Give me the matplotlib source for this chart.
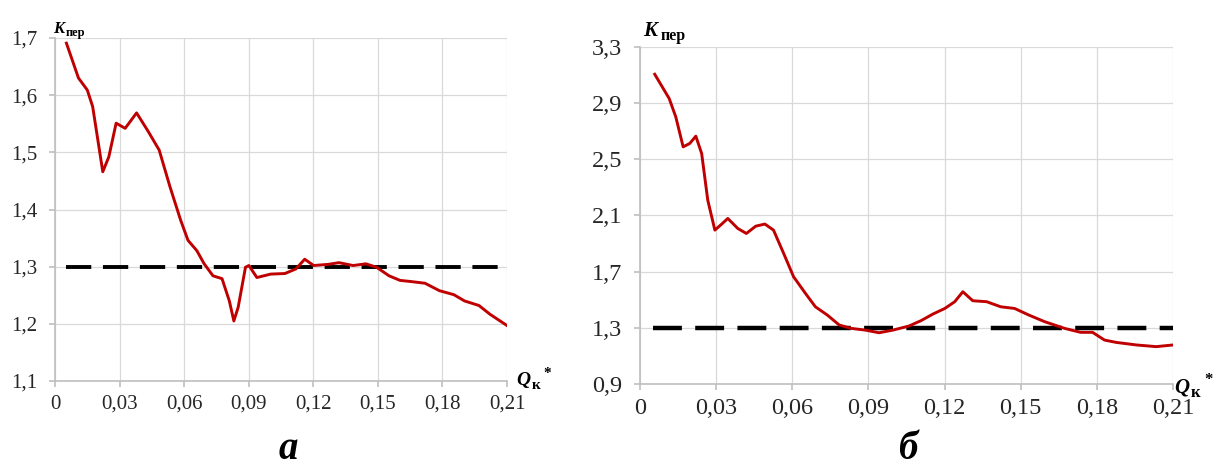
import numpy as np
import matplotlib.pyplot as plt
from matplotlib.ticker import FuncFormatter

# --- data ---
# panel "а"
qa = [0.0053, 0.0109, 0.015, 0.0175, 0.0222, 0.025, 0.0284, 0.0326, 0.0379, 0.0434,
      0.0484, 0.0534, 0.0584, 0.0618, 0.0659, 0.0693, 0.0734, 0.0776, 0.081, 0.0831,
      0.0851, 0.0885, 0.0901, 0.0938, 0.1002, 0.1068, 0.1119, 0.116, 0.1202, 0.1269,
      0.1319, 0.1385, 0.1444, 0.1494, 0.1552, 0.1603, 0.1653, 0.1719, 0.1786, 0.1853,
      0.1903, 0.197, 0.202, 0.21]
ka = [1.691, 1.630, 1.609, 1.580, 1.466, 1.492, 1.551, 1.542, 1.569, 1.536,
      1.504, 1.440, 1.381, 1.346, 1.328, 1.305, 1.284, 1.279, 1.240, 1.205,
      1.229, 1.299, 1.302, 1.281, 1.287, 1.288, 1.296, 1.313, 1.302, 1.304,
      1.307, 1.302, 1.305, 1.299, 1.284, 1.276, 1.274, 1.271, 1.258, 1.251,
      1.240, 1.232, 1.217, 1.197]

# panel "б"
qb = [0.0058, 0.0115, 0.0141, 0.017, 0.0196, 0.022, 0.0243, 0.0267, 0.0295, 0.0322,
      0.0346, 0.0385, 0.0419, 0.0456, 0.0492, 0.0526, 0.0566, 0.0605, 0.0652, 0.0691,
      0.0738, 0.0785, 0.0832, 0.0887, 0.0942, 0.0997, 0.106, 0.1107, 0.1154, 0.1201,
      0.124, 0.1272, 0.1311, 0.1366, 0.1421, 0.1476, 0.1532, 0.1594, 0.1673, 0.1736,
      0.1783, 0.183, 0.1877, 0.1956, 0.2034, 0.21]
kb = [3.106, 2.933, 2.802, 2.589, 2.613, 2.665, 2.541, 2.209, 1.996, 2.039,
      2.079, 2.008, 1.972, 2.024, 2.039, 1.996, 1.830, 1.664, 1.545, 1.450,
      1.391, 1.320, 1.296, 1.284, 1.265, 1.284, 1.313, 1.351, 1.398, 1.438,
      1.486, 1.557, 1.493, 1.486, 1.450, 1.438, 1.391, 1.344, 1.296, 1.268,
      1.268, 1.213, 1.196, 1.178, 1.166, 1.178]

k_limit = 1.3
limit_from = 0.005

xticks = [0, 0.03, 0.06, 0.09, 0.12, 0.15, 0.18, 0.21]
yticks_a = [1.1, 1.2, 1.3, 1.4, 1.5, 1.6, 1.7]
yticks_b = [0.9, 1.3, 1.7, 2.1, 2.5, 2.9, 3.3]

W, H = 1223, 470
fig = plt.figure(figsize=(W / 100, H / 100), dpi=100)
plt.rcParams['font.family'] = ['Liberation Serif', 'DejaVu Serif']


def comma(v, pos):
    s = ('%.2f' % v).rstrip('0').rstrip('.')
    return s.replace('.', ',')


def px(x, y):
    # pixel position -> figure fraction
    return x / W, 1 - y / H


def panel(rect, q, k, yticks, fsize, lw):
    ax = fig.add_axes(rect)
    ax.plot([limit_from, 0.21], [k_limit, k_limit], color='black', lw=lw,
            dashes=(6.5, 3))
    ax.plot(q, k, color='#c00000', lw=2.1, solid_joinstyle='round')
    ax.set_xlim(0, 0.21)
    ax.set_ylim(yticks[0], yticks[-1])
    ax.set_xticks(xticks)
    ax.set_yticks(yticks)
    ax.xaxis.set_major_formatter(FuncFormatter(comma))
    ax.yaxis.set_major_formatter(FuncFormatter(comma))
    ax.grid(color='#d9d9d9', lw=0.9)
    ax.set_axisbelow(True)
    for s in ['top', 'right']:
        ax.spines[s].set_visible(False)
    for s in ['left', 'bottom']:
        ax.spines[s].set_color('#bfbfbf')
        ax.spines[s].set_linewidth(1.2)
    ax.tick_params(axis='both', colors='#bfbfbf', labelcolor='#262626',
                   labelsize=fsize, length=4, width=1.2)
    ax.tick_params(axis='x', pad=6)
    ax.tick_params(axis='y', pad=9)
    return ax


ax1 = panel([55 / W, 1 - 381 / H, 452 / W, 343 / H], qa, ka, yticks_a, 15, 2.8)
ax2 = panel([640 / W, 1 - 384 / H, 533 / W, 337 / H], qb, kb, yticks_b, 17.5, 3.2)

# axis captions
fig.text(*px(53, 33), 'K', fontsize=12, fontweight='bold', style='italic')
fig.text(*px(66, 36), 'пер', fontsize=9, fontweight='bold')
fig.text(*px(643, 36), 'K', fontsize=15, fontweight='bold', style='italic')
fig.text(*px(661, 40), 'пер', fontsize=11.5, fontweight='bold')

fig.text(*px(516, 385), 'Q', fontsize=14, fontweight='bold', style='italic')
fig.text(*px(532, 389), 'к', fontsize=11, fontweight='bold')
fig.text(*px(543, 377), '*', fontsize=11, fontweight='bold')
fig.text(*px(1174, 393), 'Q', fontsize=15, fontweight='bold', style='italic')
fig.text(*px(1191, 397), 'к', fontsize=12, fontweight='bold')
fig.text(*px(1204, 384), '*', fontsize=12, fontweight='bold')

# panel letters
fig.text(*px(288, 459), 'а', fontsize=28, fontweight='bold', style='italic',
         ha='center', va='baseline')
fig.text(*px(908, 459), 'б', fontsize=28, fontweight='bold', style='italic',
         ha='center', va='baseline')

fig.savefig('out.png', dpi=100)
